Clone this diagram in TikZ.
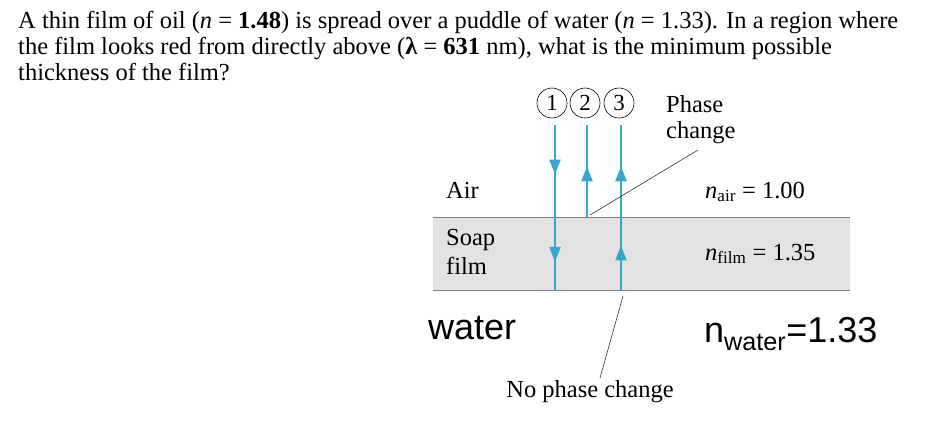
\documentclass[tikz,border=0pt]{standalone}
\usepackage{fontspec}
\setmainfont{Liberation Serif}
\newfontfamily\arialf{Liberation Sans}
\usetikzlibrary{decorations.markings,arrows.meta}
\definecolor{ray}{HTML}{3AA6CF}
\definecolor{band}{HTML}{E2E2E2}
\tikzset{
  raystyle/.style={draw=ray,line width=2.4pt},
  tip/.style={postaction={decorate,decoration={markings,mark=at position #1 with {\arrow[ray]{Triangle[length=15pt,width=11pt]}}}}},
  lbl/.style={font=\fontsize{24.5}{28}\selectfont,inner sep=0pt,anchor=west},
  circ/.style={circle,draw,line width=0.6pt,minimum size=30pt,inner sep=0pt,font=\fontsize{23}{24}\selectfont},
  leader/.style={draw,black!80,line width=0.6pt}
}
\begin{document}
\begin{tikzpicture}[x=1pt,y=-1pt]
\useasboundingbox (0,0) rectangle (933,440);
\node[lbl,anchor=base west] (t1) at (18,28) {A thin film of oil (\textit{n} = \textbf{1.48}) is spread over a puddle of water (\textit{n} = 1.33). In a region where};
\node[lbl,anchor=base west] (t2) at (18,54) {the film looks red from directly above (\textbf{λ} = \textbf{631} nm), what is the minimum possible};
\node[lbl,anchor=base west] (t3) at (18,80) {thickness of the film?};
\fill[band] (433,217) rectangle (850,290);
\draw[gray,line width=0.8pt] (433,217) -- (850,217);
\draw[gray,line width=0.8pt] (433,290) -- (850,290);
\node[circ] (c1) at (552,103) {1};
\node[circ] (c2) at (585,103) {2};
\node[circ] (c3) at (619,103) {3};
\coordinate (r1a) at (555,125); \coordinate (r1b) at (555,290);
\coordinate (r2a) at (587,217); \coordinate (r2b) at (587,125);
\coordinate (r3a) at (621,290); \coordinate (r3b) at (621,125);
\path[raystyle,tip=0.3,tip=0.83] (r1a) -- (r1b);
\path[raystyle,tip=0.55] (r2a) -- (r2b);
\path[raystyle,tip=0.27,tip=0.75] (r3a) -- (r3b);
\node[lbl] (pc) at (666,104) {Phase};
\node[lbl] (pc2) at (666,133) {change};
\coordinate (pcend) at (698,150);
\draw[leader] (590,215) -- (pcend);
\node[lbl,anchor=north] (npc) at (590,380) {No phase change};
\draw[leader] (623,296) -- (600,378);
\node[lbl] (air) at (446,190) {Air};
\node[lbl] (soap) at (446,240) {Soap};
\node[lbl] (film) at (446,266) {film};
\node[lbl] (nair) at (705,192) {\textit{n}\textsubscript{air} = 1.00};
\node[lbl] (nfilm) at (705,254) {\textit{n}\textsubscript{film} = 1.35};
\node[inner sep=0pt,anchor=west,font=\arialf\fontsize{36}{38}\selectfont] (water) at (428,328) {water};
\node[inner sep=0pt,anchor=west,font=\arialf\fontsize{36}{38}\selectfont] (nw) at (704,334) {n\textsubscript{water}=1.33};
\end{tikzpicture}
\end{document}
